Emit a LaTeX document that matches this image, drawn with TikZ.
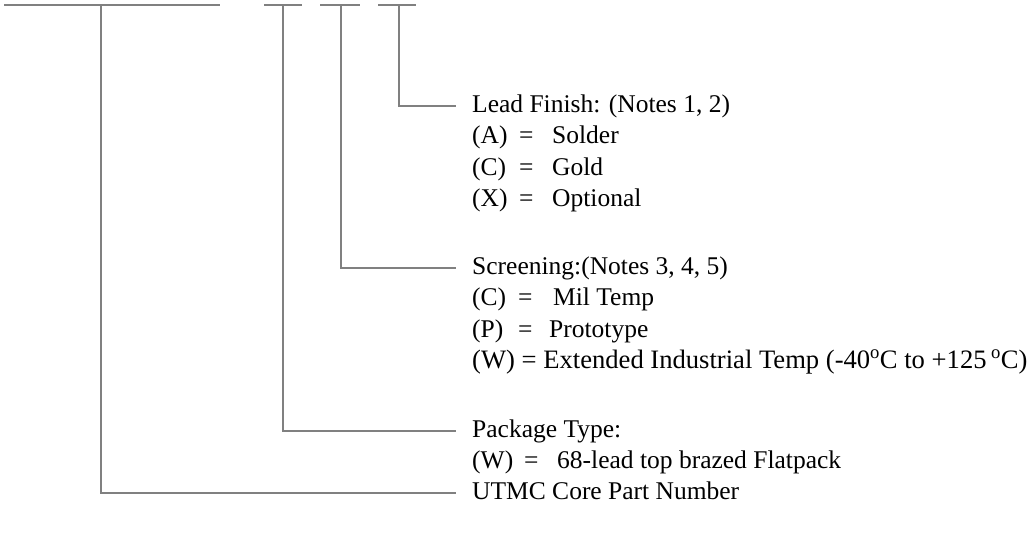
\documentclass[tikz,border=0pt]{standalone}
\usepackage{fontspec}
\setmainfont{Liberation Serif}
\newcommand{\optrow}[4]{\makebox[#2][l]{#1}\makebox[#3][l]{=}#4}
\begin{document}
\begin{tikzpicture}[x=1pt,y=-1pt,
  wire/.style={draw={rgb,255:red,128;green,128;blue,128}, line width=2pt},
  lbl/.style={anchor=base west, inner sep=0pt, font=\fontsize{25.5}{30}\selectfont}]
\useasboundingbox (0,0) rectangle (1034,536);
% top bars
\coordinate (b1a) at (4,5);   \coordinate (b1b) at (220,5);
\coordinate (b2a) at (264,5); \coordinate (b2b) at (302,5);
\coordinate (b3a) at (320,5); \coordinate (b3b) at (360,5);
\coordinate (b4a) at (378,5); \coordinate (b4b) at (416,5);
\coordinate (t1) at (101,5);
\coordinate (t2) at (283,5);
\coordinate (t3) at (341,5);
\coordinate (t4) at (399,5);
\draw[wire] (b1a) -- (b1b);
\draw[wire] (b2a) -- (b2b);
\draw[wire] (b3a) -- (b3b);
\draw[wire] (b4a) -- (b4b);
% line ends
\coordinate (e4) at (456,106);
\coordinate (e3) at (456,268);
\coordinate (e2) at (456,431);
\coordinate (e1) at (456,493);
% texts
\node[lbl] (lead) at (472,112) {Lead Finish: (Notes 1, 2)};
\node[lbl] (leadA) at (472,143) {\optrow{(A)}{47pt}{33pt}{Solder}};
\node[lbl] (leadC) at (472,175) {\optrow{(C)}{47pt}{33pt}{Gold}};
\node[lbl] (leadX) at (472,206) {\optrow{(X)}{47pt}{33pt}{Optional}};
\node[lbl] (scr) at (472,274) {Screening:(Notes 3, 4, 5)};
\node[lbl] (scrC) at (472,305) {\optrow{(C)}{46pt}{35pt}{Mil Temp}};
\node[lbl] (scrP) at (472,337) {\optrow{(P)}{46pt}{31pt}{Prototype}};
\node[lbl, font=\fontsize{26.6}{30}\selectfont] (scrW) at (472,368) {(W) = Extended Industrial Temp (-40\textsuperscript{o}C to +125\,\textsuperscript{o}C)};
\node[lbl] (pkg) at (472,437) {Package Type:};
\node[lbl] (pkgW) at (472,468) {\optrow{(W)}{52pt}{33pt}{68-lead top brazed Flatpack}};
\node[lbl] (core) at (472,499) {UTMC Core Part Number};
% connectors
\draw[wire] (t4) |- (e4);
\draw[wire] (t3) |- (e3);
\draw[wire] (t2) |- (e2);
\draw[wire] (t1) |- (e1);
\end{tikzpicture}
\end{document}
